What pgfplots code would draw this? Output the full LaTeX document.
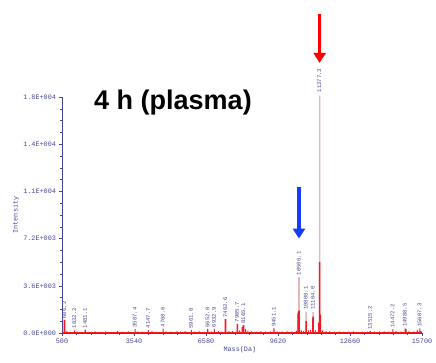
\documentclass[border=0pt]{standalone}
\usepackage{pgfplots}
\pgfplotsset{compat=1.18}
\usepackage{fontspec}
\setmainfont{Liberation Sans}
\setmonofont{Liberation Mono}
\usetikzlibrary{arrows.meta}
\definecolor{navy}{RGB}{70,70,145}
\definecolor{peakred}{RGB}{245,25,35}
\definecolor{peakpink}{RGB}{225,185,185}
\definecolor{arrred}{RGB}{255,0,0}
\definecolor{arrblue}{RGB}{20,60,255}
\begin{document}
\begin{tikzpicture}
\path[use as bounding box] (0,0) rectangle (436pt,363pt);
\begin{axis}[
  at={(62pt,30pt)}, anchor=south west,
  scale only axis, width=360pt, height=236pt,
  xmin=500, xmax=15700, ymin=0, ymax=18000,
  clip=false,
  scaled ticks=false,
  axis lines=left,
  axis line style={draw=navy, line width=0.6pt, -},
  tick align=outside,
  major tick length=3pt, minor tick length=1.8pt,
  tick style={draw=navy, line width=0.5pt},
  xtick={500,3540,6580,9620,12660,15700},
  xticklabels={\texttt{500},\texttt{3540},\texttt{6580},\texttt{9620},\texttt{12660},\texttt{15700}},
  ytick={0,3600,7200,10800,14400,18000},
  yticklabels={\texttt{0.0E+000},\texttt{3.6E+003},\texttt{7.2E+003},\texttt{1.1E+004},\texttt{1.4E+004},\texttt{1.8E+004}},
  minor x tick num=4, minor y tick num=3,
  tick label style={font=\fontsize{6.8}{8}\selectfont, text=navy},
  xticklabel style={yshift=0.5pt},
  yticklabel style={xshift=0.5pt},
  xlabel={\texttt{Mass(Da)}},
  ylabel={\texttt{Intensity}},
  label style={font=\fontsize{6.8}{8}\selectfont, text=navy},
  xlabel style={at={(axis description cs:0.494,0)}, anchor=center, yshift=-17pt},
  ylabel style={at={(axis description cs:-0.128,0.5)}, anchor=center},
]
% pink (upper) spectrum
\addplot[ybar, bar shift=0pt, bar width=1.6pt, fill=peakpink, draw=none, mark=none] coordinates {
(10470,1600) (10506.1,4270) (10808.1,1600) (11104.0,1600) (11377.3,18100)
};
% red spectrum, main peaks
\addplot[ybar, bar shift=0pt, bar width=1.6pt, fill=peakred, draw=none, mark=none] coordinates {
(606.2,1000) (7402.6,1050) (7905.7,700) (8120,450) (8165.1,600)
(10470,1500) (10506.1,1700) (10808.1,900) (11090,1100) (11104.0,1250)
(11377.3,5400) (11410,1400)
};
% red spectrum, small peaks and noise
\addplot[ybar, bar shift=0pt, bar width=1.1pt, fill=peakred, draw=none, mark=none] coordinates {
(700,120) (850,90) (1032.2,200) (1150,110) (1300,80) (1481.1,250)
(1650,90) (1900,130) (2100,80) (2350,110) (2600,90) (2850,140) (3050,100)
(3300,120) (3587.4,300) (3700,110) (3900,90) (4147.7,220) (4300,120) (4500,90)
(4768.6,330) (4900,110) (5100,100) (5350,130) (5500,110) (5700,150) (5961.0,220)
(6100,100) (6300,120) (6500,90) (6652.0,300) (6800,110) (6932.9,320) (7100,150)
(7250,110) (7550,120) (7700,150) (8000,200)
(8250,300) (8350,180) (8500,120) (8700,100) (8900,130)
(9100,100) (9300,120) (9451.1,350) (9600,110) (9800,100) (10000,120) (10200,100)
(10400,180) (10600,200) (10700,150)
(10900,200) (11000,250) (11200,200) (11340,800)
(11500,200) (11650,150) (11800,120)
(12000,100) (12200,130) (12400,110) (12600,100) (12800,120) (13000,90)
(13200,110) (13400,100) (13515.2,150) (13700,110) (13900,100) (14100,120)
(14300,110) (14472.2,300) (14600,120) (14800,110) (14988.5,350) (15030,300)
(15150,120) (15350,110) (15500,200) (15607.3,350) (15660,150)
};
% baseline
\addplot[color=peakred, line width=0.5pt, mark=none] coordinates {(500,25) (15700,25)};
% peak labels
\addplot[only marks, mark=none, nodes near coords, point meta=explicit symbolic,
  nodes near coords style={rotate=90, anchor=west, inner sep=0pt, yshift=0.3pt,
  font=\fontsize{5.6}{6}\ttfamily, text=navy}]
  table[meta=label] {
x y label
606.2 1100 606.2
1032.2 350 1032.2
1481.1 350 1481.1
3587.4 400 3587.4
4147.7 350 4147.7
4768.6 430 4768.6
5961.0 320 5961.0
6652.0 400 6652.0
6932.9 420 6932.9
7402.6 1150 7402.6
7905.7 800 7905.7
8165.1 700 8165.1
9451.1 450 9451.1
10506.1 4400 10506.1
10808.1 1750 10808.1
11104.0 1750 11104.0
11377.3 18350 11377.3
13515.2 250 13515.2
14472.2 400 14472.2
14988.5 450 14988.5
15607.3 450 15607.3
};
% arrows
\draw[arrred, line width=3.6pt, -{Triangle[width=12pt,length=10pt]}]
  (axis cs:11377.3,24300) -- (axis cs:11377.3,20600);
\draw[arrblue, line width=3.6pt, -{Triangle[width=12pt,length=10pt]}]
  (axis cs:10506.1,11100) -- (axis cs:10506.1,7200);
\end{axis}
\node[font=\fontsize{27}{30}\selectfont\bfseries, inner sep=0pt] at (173pt,260pt) {4 h (plasma)};
\end{tikzpicture}
\end{document}
